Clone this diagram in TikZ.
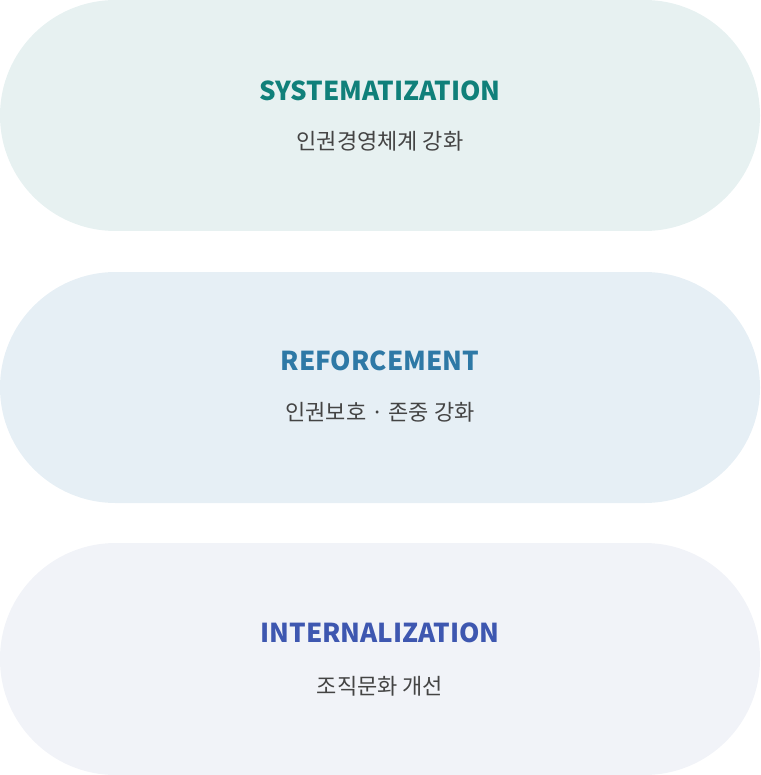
\documentclass[tikz,border=0pt]{standalone}
\usepackage{fontspec}
\setmainfont{Noto Sans CJK KR}
\definecolor{pillA}{HTML}{E7F1F1}
\definecolor{pillB}{HTML}{E6EFF5}
\definecolor{pillC}{HTML}{F1F3F8}
\definecolor{titleA}{HTML}{10807A}
\definecolor{titleB}{HTML}{2E79A6}
\definecolor{titleC}{HTML}{3E57B0}
\definecolor{subgray}{HTML}{444444}
\begin{document}
\begin{tikzpicture}[x=1pt,y=-1pt,
  pill/.style={rounded corners=115.5pt},
  titletext/.style={font=\fontsize{26}{30}\selectfont\bfseries, inner sep=0pt},
  subtext/.style={font=\fontsize{22}{26}\selectfont, text=subgray, inner sep=0pt}]
\useasboundingbox (0,0) rectangle (760,775);
\fill[pillA, pill] (0,0) rectangle (760,231);
\fill[pillB, pill] (0,272) rectangle (760,503);
\fill[pillC, pill] (0,543) rectangle (760,775);
\node[titletext, text=titleA] (t1) at (380,91) {SYSTEMATIZATION};
\node[subtext] (s1) at (380,141) {인권경영체계 강화};
\node[titletext, text=titleB] (t2) at (380,361) {REFORCEMENT};
\node[subtext] (s2) at (380,412) {인권보호 · 존중 강화};
\node[titletext, text=titleC] (t3) at (380,633) {INTERNALIZATION};
\node[subtext] (s3) at (380,686) {조직문화 개선};
\end{tikzpicture}
\end{document}
